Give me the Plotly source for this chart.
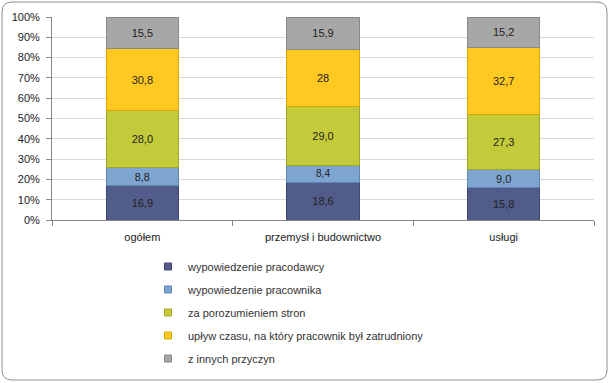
import plotly.graph_objects as go

categories = ["ogółem", "przemysł i budownictwo", "usługi"]
series_names = [
    "wypowiedzenie pracodawcy",
    "wypowiedzenie pracownika",
    "za porozumieniem stron",
    "upływ czasu, na który pracownik był zatrudniony",
    "z innych przyczyn",
]
wyp_pracodawcy = [16.9, 18.6, 15.8]
wyp_pracownika = [8.8, 8.4, 9.0]
porozumienie = [28.0, 29.0, 27.3]
uplyw_czasu = [30.8, 28.0, 32.7]
inne = [15.5, 15.9, 15.2]
labels = [
    ["16,9", "18,6", "15,8"],
    ["8,8", "8,4", "9,0"],
    ["28,0", "29,0", "27,3"],
    ["30,8", "28", "32,7"],
    ["15,5", "15,9", "15,2"],
]
y_ticks = [0, 10, 20, 30, 40, 50, 60, 70, 80, 90, 100]
y_tick_text = [f"{v}%" for v in y_ticks]

colors = ["#515C8A", "#7DA5D0", "#C4CB3B", "#FFC922", "#A7A7A7"]
edge = ["#3E4770", "#5E86B0", "#9FA52A", "#D9A800", "#888888"]
values = [wyp_pracodawcy, wyp_pracownika, porozumienie, uplyw_czasu, inne]

FONT = "Liberation Sans"
fig = go.Figure()
for i, (name, vals) in enumerate(zip(series_names, values)):
    fig.add_trace(go.Bar(
        x=categories, y=vals, name=name, text=labels[i],
        textposition="inside", insidetextanchor="middle", textangle=0,
        textfont=dict(family=FONT, size=11, color="#222222"),
        marker=dict(color=colors[i], line=dict(color=edge[i], width=1)),
        width=0.4, showlegend=False,
    ))
# legend entries with small square icons
for i, name in enumerate(series_names):
    fig.add_trace(go.Scatter(
        x=[None], y=[None], mode="markers", name=name,
        marker=dict(symbol="square", size=7, color=colors[i],
                    line=dict(color=edge[i], width=1)),
        legendgroup=f"g{i}", showlegend=True,
    ))

W, H = 610, 383
L, R, T, B = 52, 16, 17, 163
pw, ph = W - L - R, H - T - B

def px(x):
    return (x - L) / pw

def py(y):
    return (H - B - y) / ph

x0, x1, y0, y1, r = 2, 607, 2, 380, 10
path = (
    f"M {px(x0 + r)},{py(y0)} L {px(x1 - r)},{py(y0)} "
    f"Q {px(x1)},{py(y0)} {px(x1)},{py(y0 + r)} "
    f"L {px(x1)},{py(y1 - r)} Q {px(x1)},{py(y1)} {px(x1 - r)},{py(y1)} "
    f"L {px(x0 + r)},{py(y1)} Q {px(x0)},{py(y1)} {px(x0)},{py(y1 - r)} "
    f"L {px(x0)},{py(y0 + r)} Q {px(x0)},{py(y0)} {px(x0 + r)},{py(y0)} Z"
)

fig.update_layout(
    width=W, height=H,
    margin=dict(l=L, r=R, t=T, b=B, autoexpand=False),
    barmode="stack",
    paper_bgcolor="white", plot_bgcolor="white",
    font=dict(family=FONT, size=11, color="#222222"),
    showlegend=True,
    legend=dict(
        x=px(148), y=py(252), xanchor="left", yanchor="top",
        traceorder="grouped", tracegroupgap=4,
        font=dict(family=FONT, size=11, color="#333333"),
        itemwidth=30, bgcolor="rgba(0,0,0,0)",
    ),
    shapes=[dict(type="path", path=path, xref="paper", yref="paper",
                 line=dict(color="#8C8C8C", width=1), layer="below")],
    xaxis=dict(
        type="category", showgrid=False, showline=True, linecolor="#868686",
        ticks="outside", tickson="boundaries", ticklen=5, tickcolor="#868686",
        ticklabelstandoff=7,
        tickfont=dict(family=FONT, size=11, color="#222222"),
    ),
    yaxis=dict(
        range=[0, 100], tickvals=y_ticks, ticktext=y_tick_text,
        showgrid=True, gridcolor="#D9D9D9", showline=True, linecolor="#868686",
        ticks="outside", ticklen=5, tickcolor="#868686", zeroline=False,
        ticklabelstandoff=4,
        tickfont=dict(family=FONT, size=11, color="#222222"),
    ),
)

fig.write_html(
    "out.html",
    config={"displayModeBar": False},
    post_script="document.body.style.margin='0';document.body.style.overflow='hidden';",
)
